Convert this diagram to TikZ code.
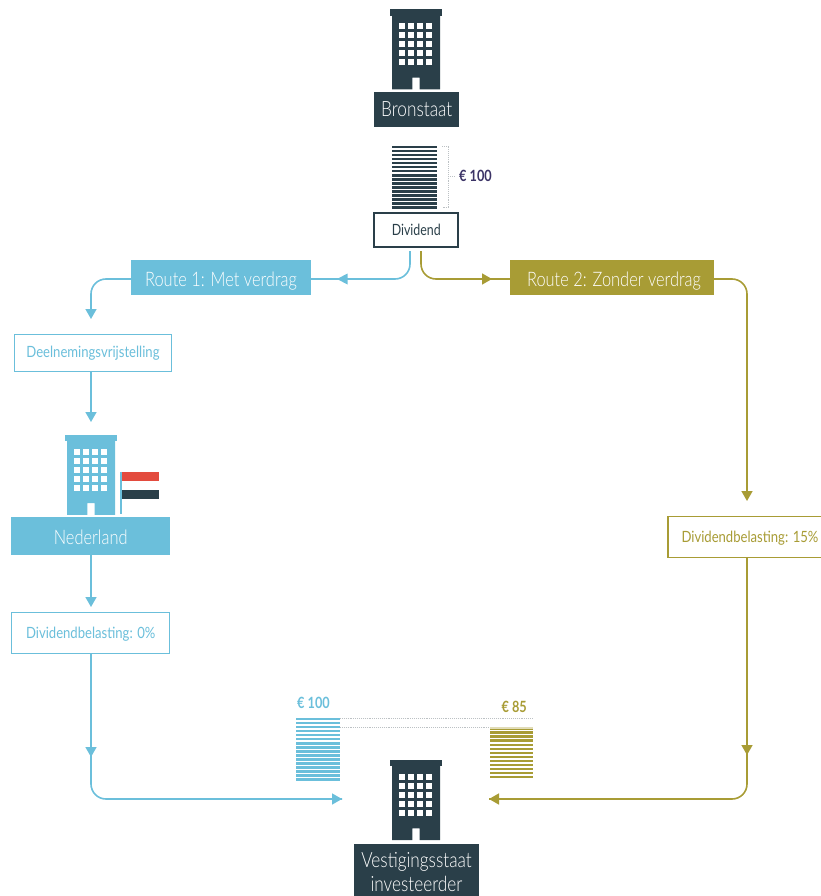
\documentclass[tikz,border=0pt]{standalone}
\usepackage{fontspec}
\setmainfont{Lato Light}[FakeStretch=0.82]
\newfontfamily\regcond{Lato}[FakeStretch=0.80]
\newfontfamily\regwide{Lato}[FakeStretch=0.845]
\newfontfamily\boldcond{Lato Bold}[FakeStretch=0.82]
\usetikzlibrary{arrows.meta}
\definecolor{dark}{HTML}{2A3F49}
\definecolor{blue}{HTML}{6BBFDB}
\definecolor{olive}{HTML}{A89C35}
\definecolor{flagred}{HTML}{E34B3E}
\definecolor{purple}{HTML}{3B3366}
\definecolor{dotgrey}{HTML}{BCC1C4}
\newcommand{\dropto}[2]{\raisebox{-#1}[0pt][0pt]{#2}}
\tikzset{
  solidbox/.style={fill=#1,draw=none,text=white,inner sep=0pt,align=center},
  linebox/.style={draw=#1,fill=white,line width=1.4pt,text=#1,inner sep=0pt,align=center},
  conn/.style={draw=#1,line width=1.6pt,rounded corners=15pt},
  tip/.style={-{Triangle[length=10pt,width=11pt]}},
  dots/.style={dotgrey,line width=.9pt,densely dotted},
  amount/.style={font=\boldcond\fontsize{15.5}{15.5}\selectfont,inner sep=0pt},
  smalltext/.style={font=\regcond\fontsize{15.5}{15.5}\selectfont},
  widetext/.style={font=\regwide\fontsize{15.5}{15.5}\selectfont},
  midtext/.style={font=\fontsize{20}{20}\selectfont},
  bigtext/.style={font=\fontsize{21}{24}\selectfont},
  nedtext/.style={font=\fontsize{20}{24}\selectfont}
}
\newcommand{\building}[3]{%
  \begin{scope}[shift={(#1,#2)}]
    \fill[#3] (-26,0) rectangle (26,6.7);
    \fill[#3] (-24,6) -- (24,6) -- (24,80.3) -- (3.7,80.3) -- (3.7,68.7) -- (-3.7,68.7) -- (-3.7,80.3) -- (-24,80.3) -- cycle;
    \foreach \i in {0,1,2,3}\foreach \j in {0,1,2,3,4}
      \fill[white] ({-16.7+9*\i},{14.3+9*\j}) rectangle ++(6,6);
  \end{scope}}
\newcommand{\bars}[5]{%
  \foreach \k in {1,...,#4}
    \fill[#5] (#1,{#3+(\k-1)*4.05}) rectangle (#2,{#3+(\k-1)*4.05+2.5});}
\begin{document}
\begin{tikzpicture}[x=1pt,y=-1pt]
\useasboundingbox (0,0) rectangle (821,896);
% top
\building{416}{9}{dark}
\node[solidbox=dark,minimum width=85.5pt,minimum height=35pt,bigtext] (bron) at (416.7,110) {\dropto{7pt}{Bronstaat}};
\bars{392.3}{436.7}{145.7}{16}{dark}
\draw[dots] (442,146) -- (448.3,146) -- (448.3,207) -- (442,207);
\draw[dots] (448.3,176) -- (455,176);
\node[amount,text=purple,anchor=west] (a100) at (459,176) {€ 100};
\node[linebox=dark,line width=2pt,minimum width=84pt,minimum height=33.5pt,text=dark,smalltext] (div) at (416.3,229.8) {\dropto{5.5pt}{Dividend}};
% route 1
\node[solidbox=blue,minimum width=180pt,minimum height=35pt,midtext] (r1) at (221,277.5) {\dropto{8.5pt}{Route 1: Met verdrag}};
\node[linebox=blue,minimum width=157pt,minimum height=37pt,widetext] (deel) at (93,353) {Deelnemingsvrijstelling};
\building{91}{434.5}{blue}
\fill[blue] (120,472.3) rectangle (122.3,513.7);
\fill[flagred] (122.3,472.3) rectangle (159,481.3);
\fill[dark] (122.3,490) rectangle (159,498.7);
\node[solidbox=blue,minimum width=158.7pt,minimum height=37.7pt,nedtext] (ned) at (90.7,536) {\dropto{8pt}{Nederland}};
\node[linebox=blue,minimum width=158pt,minimum height=41pt,widetext] (b0) at (90.7,633) {\dropto{5.5pt}{Dividendbelasting: 0\%}};
% route 2
\node[solidbox=olive,minimum width=204pt,minimum height=35pt,midtext] (r2) at (612,277.5) {\dropto{8.5pt}{\hspace*{4pt}Route 2: Zonder verdrag}};
\node[linebox=olive,minimum width=164pt,minimum height=41pt,widetext] (b15) at (750,537) {\dropto{5.5pt}{Dividendbelasting: 15\%}};
% bottom
\bars{296}{340}{717.7}{16}{blue}
\bars{489.7}{533.3}{727.3}{13}{olive}
\fill[olive!35] (489.7,727.3) rectangle (533.3,729);
\draw[dots] (340,718) -- (533,718);
\draw[dots] (340,727.7) -- (490,727.7);
\node[amount,text=blue,anchor=west] (c100) at (297,703) {€ 100};
\node[amount,text=olive,anchor=east] (c85) at (527,707) {€ 85};
\building{416}{759.7}{dark}
\node[solidbox=dark,minimum width=124.4pt,minimum height=58pt,bigtext] (vest) at (416.5,872.5) {Vestigingsstaat\\investeerder};
% free ends
\coordinate (d1) at (410,251);
\coordinate (d2) at (421,251);
\coordinate (m1) at (338,279);
\coordinate (t1) at (342,799);
\coordinate (t2) at (489,799);
\coordinate (m2) at (492,279);
\coordinate (r1c) at (91,279);
\coordinate (r2c) at (747,279);
\coordinate (m3) at (91,757);
\coordinate (m4) at (747,755);
% connectors, blue
\draw[conn=blue] (d1) |- (r1.east |- m1);
\fill[blue] (337,279) -- (347.5,273.5) -- (347.5,284.5) -- cycle;
\draw[conn=blue,tip,blue] (r1.west |- r1c) -- (r1c) -- (91,319);
\draw[conn=blue,tip,blue] (deel.south -| r1c) -- (91,422);
\draw[conn=blue,tip,blue] (ned.south -| r1c) -- (91,607);
\draw[conn=blue] (b0.south -| r1c) -- (91,799) -- (t1);
\draw[conn=blue,tip,rounded corners=0pt] (91,740) -- (m3);
\draw[conn=blue,tip,rounded corners=0pt] (320,799) -- (t1);
% connectors, olive
\draw[conn=olive] (d2) |- (r2.west |- m2);
\draw[conn=olive,tip,rounded corners=0pt] (480,279) -- (m2);
\draw[conn=olive] (r2.east |- r2c) -- (r2c) -- (747,490);
\draw[conn=olive,tip,rounded corners=0pt] (747,480) -- (747,501);
\draw[conn=olive] (b15.south -| r2c) -- (747,799) -- (t2);
\draw[conn=olive,tip,rounded corners=0pt] (747,735) -- (m4);
\draw[conn=olive,tip,rounded corners=0pt] (510,799) -- (t2);
\end{tikzpicture}
\end{document}
